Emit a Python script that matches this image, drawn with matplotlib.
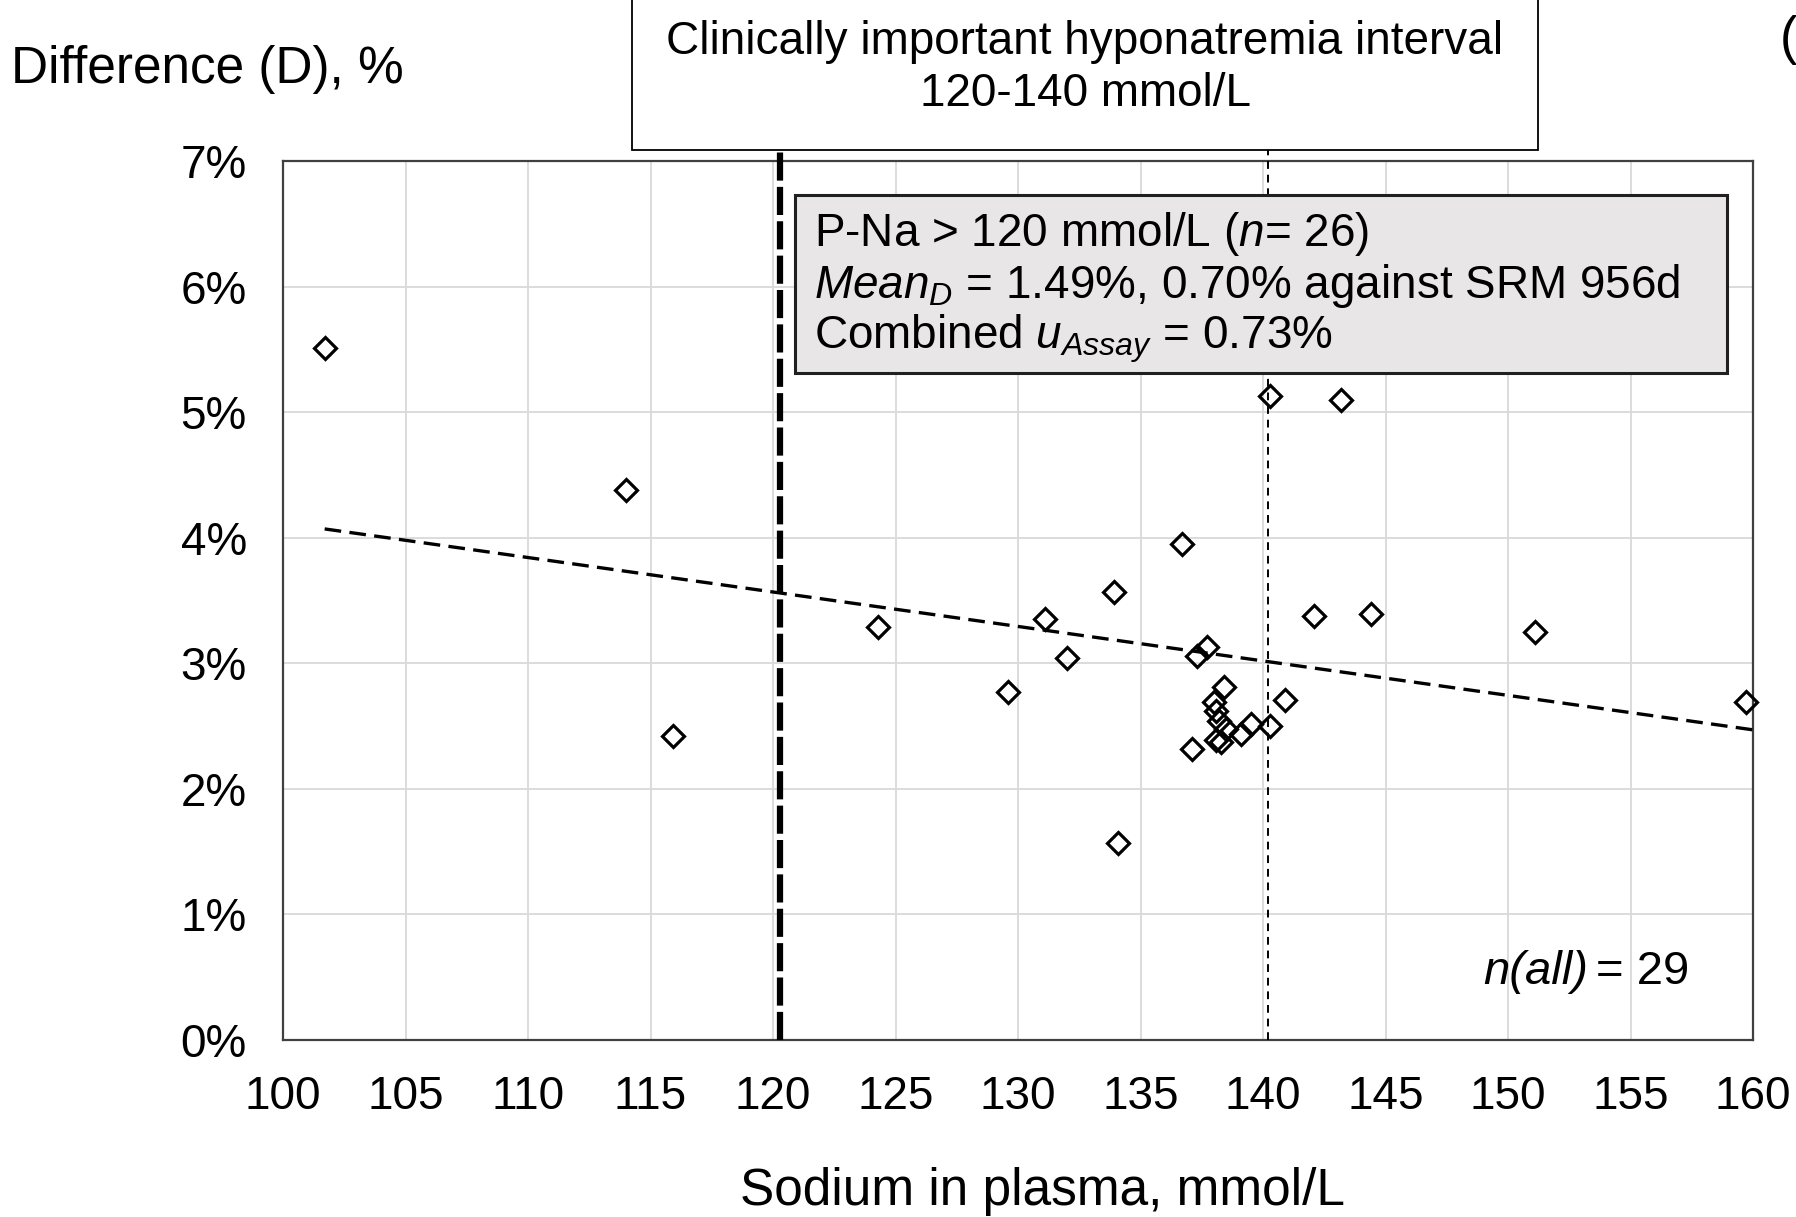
import numpy as np
import matplotlib
matplotlib.use("Agg")
import matplotlib.pyplot as plt
from matplotlib.patches import Rectangle

plt.rcParams['font.family'] = ['Liberation Sans', 'DejaVu Sans']
plt.rcParams['mathtext.fontset'] = 'custom'
plt.rcParams['mathtext.rm'] = 'Liberation Sans'
plt.rcParams['mathtext.it'] = 'Liberation Sans:italic'

# sodium in plasma (mmol/L) and difference D (%)
sodium = [101.7, 114.0, 115.9, 124.3, 129.6, 131.1, 132.0, 133.9, 134.1, 136.7,
          137.3, 137.7, 137.1, 138.0, 138.4, 138.1, 138.2, 138.5, 139.1, 139.5,
          138.1, 138.3, 140.3, 140.9, 140.3, 143.2, 142.1, 144.4, 151.1, 159.7]
diff_pct = [5.51, 4.38, 2.42, 3.29, 2.77, 3.35, 3.04, 3.57, 1.57, 3.95,
            3.06, 3.13, 2.32, 2.69, 2.81, 2.62, 2.54, 2.48, 2.44, 2.52,
            2.39, 2.37, 2.50, 2.71, 5.13, 5.10, 3.38, 3.39, 3.25, 2.69]

# linear trend end points
trend_x = [101.7, 160.0]
trend_y = [4.07, 2.47]

hypo_low, hypo_high = 120.3, 140.2

xticks = list(range(100, 161, 5))
yticks = list(range(0, 8))

W, H = 1796, 1217
fig = plt.figure(figsize=(W / 100, H / 100), dpi=100)
ax = fig.add_axes([283 / W, 1 - 1040 / H, (1753 - 283) / W, (1040 - 161) / H])

def fx(px):
    return px / W

def fy(py):
    return 1 - py / H

ax.set_xlim(100, 160)
ax.set_ylim(0, 7)
ax.set_xticks(xticks)
ax.set_yticks(yticks)
ax.set_yticklabels([f"{t}%" for t in yticks])
ax.tick_params(length=0, labelsize=33)
ax.tick_params(axis='y', pad=26)
ax.tick_params(axis='x', pad=25)
ax.grid(True, color='#d9d9d9', lw=1.3)
ax.set_axisbelow(True)
for s in ax.spines.values():
    s.set_color('#404040')
    s.set_linewidth(1.6)

ax.vlines(hypo_low, 0, 7.1, colors='black', lw=4.5, linestyles=(0, (4.5, 1.0)),
          clip_on=False, zorder=3)
ax.vlines(hypo_high, 0, 7.1, colors='black', lw=1.4, linestyles=(0, (4, 3)),
          clip_on=False, zorder=3)
ax.plot(trend_x, trend_y, color='black', lw=2.4, ls=(0, (5, 2.5)), zorder=4)
ax.plot(sodium, diff_pct, ls='none', marker='D', ms=11.5, mfc='none',
        mec='black', mew=2.3, zorder=5, clip_on=False)

# header box
fig.add_artist(Rectangle((fx(632), fy(150)), fx(1538 - 632), (150 + 5) / H,
                         transform=fig.transFigure, facecolor='white',
                         edgecolor='black', lw=1.3, zorder=10))
fig.text(fx(1085), fy(42), "Clinically important hyponatremia interval",
         ha='center', va='center', fontsize=33, zorder=11)
fig.text(fx(1085), fy(94), "120-140 mmol/L", ha='center', va='center',
         fontsize=33, zorder=11)

# statistics box
fig.add_artist(Rectangle((fx(795), fy(373)), fx(1727 - 795), (373 - 195) / H,
                         transform=fig.transFigure, facecolor='#e8e6e6',
                         edgecolor='#202020', lw=2.2, zorder=10))
fig.text(fx(814), fy(234), r"P-Na > 120 mmol/L ($n$= 26)", ha='left',
         va='center', fontsize=33, zorder=11)
fig.text(fx(814), fy(286), r"$Mean_{D}$ = 1.49%, 0.70% against SRM 956d",
         ha='left', va='center', fontsize=33, zorder=11)
fig.text(fx(814), fy(339), r"Combined $u_{Assay}$ = 0.73%", ha='left',
         va='center', fontsize=33, zorder=11)

# sample count, italic n(all)
fig.text(fx(1588), fy(972), "n(all)", ha='right', va='center',
         fontsize=34, style='italic')
fig.text(fx(1596), fy(972), "= 29", ha='left', va='center', fontsize=34)

fig.text(fx(11), fy(69), "Difference (D), %", ha='left', va='center',
         fontsize=37)
fig.text(fx(1042), fy(1191), "Sodium in plasma, mmol/L", ha='center',
         va='center', fontsize=37)
fig.text(fx(1780), fy(40), "(", ha='left', va='center', fontsize=38)

fig.savefig("out.png", dpi=100, facecolor='white')
